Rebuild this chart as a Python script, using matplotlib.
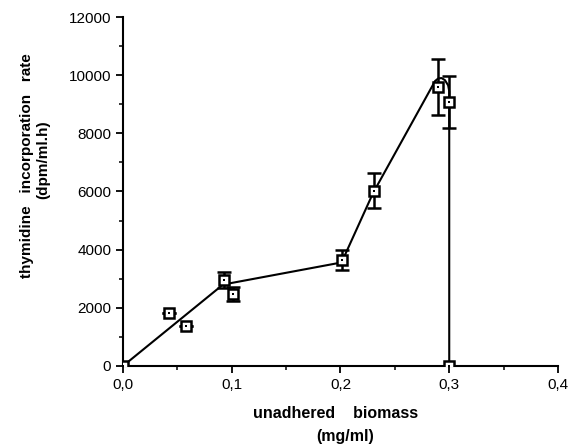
import matplotlib.pyplot as plt
from matplotlib.ticker import FuncFormatter, MultipleLocator

plt.rcParams['font.family'] = ['Liberation Sans', 'DejaVu Sans']

# measured points (mean +/- sd)
biomass = [0.0, 0.042, 0.058, 0.093, 0.101, 0.201, 0.231, 0.290, 0.300, 0.300]
rate = [0, 1830, 1370, 2950, 2470, 3640, 6030, 9600, 9070, 0]
rate_err = [0, 0, 0, 280, 240, 340, 590, 970, 900, 0]

# hand-drawn trend line
line_x = [0.0, 0.092, 0.201, 0.230, 0.287, 0.290, 0.293, 0.296, 0.299, 0.300, 0.300]
line_y = [0, 2800, 3560, 5950, 9800, 9890, 9900, 9830, 9650, 9450, 0]

fig = plt.figure(figsize=(5.72, 4.44), dpi=100)
ax = fig.add_axes([0.215, 0.1757, 0.7605, 0.786])

ax.plot(line_x, line_y, color='black', lw=1.5, zorder=2)
ax.errorbar(biomass, rate, yerr=rate_err, fmt='none', ecolor='black',
            elinewidth=1.8, capsize=5, capthick=1.8, zorder=3)
ax.plot(biomass, rate, ls='none', marker='s', ms=6.5, mfc='white',
        mec='black', mew=1.8, zorder=4)
ax.plot(biomass, rate, ls='none', marker='s', ms=1.8, mfc='black',
        mec='black', mew=0, zorder=5)

ax.set_xlim(0, 0.4)
ax.set_ylim(0, 12000)
ax.xaxis.set_major_locator(MultipleLocator(0.1))
ax.xaxis.set_minor_locator(MultipleLocator(0.05))
ax.yaxis.set_major_locator(MultipleLocator(2000))
ax.yaxis.set_minor_locator(MultipleLocator(1000))
ax.xaxis.set_major_formatter(FuncFormatter(lambda v, p: f'{v:.1f}'.replace('.', ',')))

for s in ['top', 'right']:
    ax.spines[s].set_visible(False)
for s in ['left', 'bottom']:
    ax.spines[s].set_linewidth(1.5)
ax.tick_params(which='major', direction='out', length=5, width=1.3, labelsize=11)
ax.tick_params(which='minor', direction='out', length=3, width=1.1)

fig.text(0.047, 0.628, 'thymidine   incorporation   rate', rotation=90,
         ha='center', va='center', fontsize=11, fontweight='bold')
fig.text(0.075, 0.64, '(dpm/ml.h)', rotation=90,
         ha='center', va='center', fontsize=11, fontweight='bold')
fig.text(0.586, 0.068, 'unadhered    biomass', ha='center', va='center',
         fontsize=11.5, fontweight='bold')
fig.text(0.603, 0.018, '(mg/ml)', ha='center', va='center',
         fontsize=11.5, fontweight='bold')

fig.savefig('out.png', dpi=100)
